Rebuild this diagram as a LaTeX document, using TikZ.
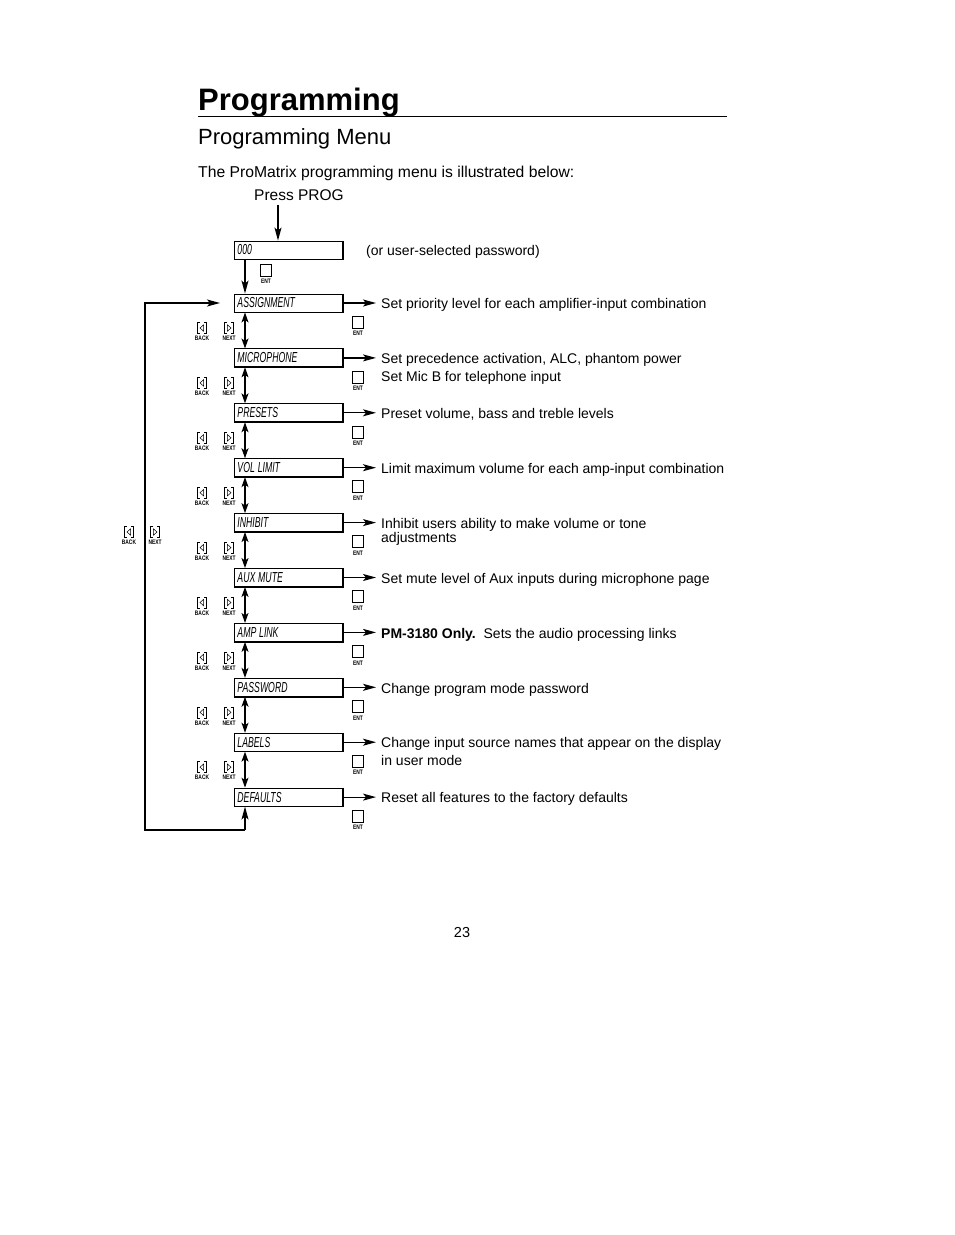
\documentclass[tikz,border=0pt]{standalone}
\usepackage{fontspec}
\setmainfont{Liberation Sans}
\usetikzlibrary{arrows.meta,positioning}

\tikzset{
  lcd/.style={draw, line width=0.9pt, anchor=west, minimum height=18pt,
    inner xsep=3pt, inner ysep=2pt, text width=102pt,
    font=\fontsize{14.5}{14.5}\selectfont\itshape},
  desc/.style={anchor=base west, align=left, inner sep=0pt,
    font=\fontsize{14}{17}\selectfont},
  arr/.style={line width=1.2pt, -{Stealth[length=13pt,width=7pt,inset=3pt]}},
  darr/.style={line width=1.2pt,
    {Stealth[length=10pt,width=7pt,inset=2.5pt]}-{Stealth[length=10pt,width=7pt,inset=2.5pt]}},
  keylbl/.style={inner sep=0pt, font=\fontsize{6.5}{6.5}\selectfont\bfseries},
  entbtn/.pic={
    \draw[line width=0.6pt] (-5.5,-6) rectangle (5.5,6);
    \node[keylbl] at (0,11.5) {\scalebox{0.75}[1]{ENT}};
  },
  backbtn/.pic={
    \draw[line width=0.6pt] (-2,-5.5) -- (-4.5,-5.5) -- (-4.5,5.5) -- (-2,5.5);
    \draw[line width=0.6pt] (2,-5.5) -- (4.5,-5.5) -- (4.5,5.5) -- (2,5.5);
    \draw[line width=0.5pt] (1.6,-3.2) -- (-2,0) -- (1.6,3.2) -- cycle;
    \node[keylbl] at (0,10.5) {\scalebox{0.75}[1]{BACK}};
  },
  nextbtn/.pic={
    \draw[line width=0.6pt] (-2,-5.5) -- (-4.5,-5.5) -- (-4.5,5.5) -- (-2,5.5);
    \draw[line width=0.6pt] (2,-5.5) -- (4.5,-5.5) -- (4.5,5.5) -- (2,5.5);
    \draw[line width=0.5pt] (-1.6,-3.2) -- (2,0) -- (-1.6,3.2) -- cycle;
    \node[keylbl] at (0,10.5) {\scalebox{0.75}[1]{NEXT}};
  }
}

\begin{document}
\begin{tikzpicture}[x=1pt,y=-1pt]
	\useasboundingbox (0,0) rectangle (954,1235);
	% heading
	\node[anchor=base west, inner sep=0pt, font=\fontsize{31}{31}\selectfont\bfseries] (title) at (198,110) {Programming};
	\draw[line width=1.8pt] (198,116.5) -- (727,116.5);
	\node[anchor=base west, inner sep=0pt, font=\fontsize{22}{22}\selectfont] (sub) at (198,144) {Programming Menu};
	\node[anchor=base west, inner sep=0pt, font=\fontsize{15.7}{15.7}\selectfont] (intro) at (198,177) {The ProMatrix programming menu is illustrated below:};
	\node[inner sep=0pt, font=\fontsize{15.5}{15.5}\selectfont] (prog) at (299,195) {Press PROG};
	% password display
	\node[lcd] (pw) at (234,250) {\scalebox{0.6}[1]{000}};
	\draw[line width=1.6pt] (pw.north east) |- (pw.south west);
	\node[desc] (pwtxt) at (366,255) {(or user-selected password)};
	\draw[arr] ([xshift=-21pt,yshift=-4pt]prog.south) -- ([xshift=44pt]pw.north west);
	\pic at (266,270) {entbtn};
	% menu displays
	\foreach \lbl [count=\i from 0] in {ASSIGNMENT,MICROPHONE,PRESETS,VOL LIMIT,INHIBIT,AUX MUTE,AMP LINK,PASSWORD,LABELS,DEFAULTS}{
		\node[lcd] (m\i) at (234,303+54.9*\i) {\scalebox{0.6}[1]{\lbl}};
		\draw[line width=1.6pt] (m\i.north east) |- (m\i.south west);
		\pic at (358,322+54.9*\i) {entbtn};
	}
	\draw[arr] ([xshift=11pt]pw.south west) -- ([xshift=11pt]m0.north west);
	% descriptions
	\node[desc] (d0) at (381,308) {Set priority level for each amplifier-input combination};
	\node[desc] (d1) at (381,381) {Set precedence activation, ALC, phantom power\\[1pt]Set Mic B for telephone input};
	\node[desc] (d2) at (381,418) {Preset volume, bass and treble levels};
	\node[desc] (d3) at (381,473) {Limit maximum volume for each amp-input combination};
	\node[desc] (d4) at (381,542) {Inhibit users ability to make volume or tone\\[-3pt]adjustments};
	\node[desc] (d5) at (381,583) {Set mute level of Aux inputs during microphone page};
	\node[desc] (d6) at (381,638) {\textbf{PM-3180 Only.}\ \ Sets the audio processing links};
	\node[desc] (d7) at (381,693) {Change program mode password};
	\node[desc] (d8) at (381,765) {Change input source names that appear on the display\\[1pt]in user mode};
	\node[desc] (d9) at (381,802) {Reset all features to the factory defaults};
	\foreach \i in {0,...,9}{
		\draw[arr, shorten >=5pt] (m\i.east) -- (m\i.east -| d\i.west);
	}
	% back / next between displays
	\foreach \i [evaluate=\i as \j using int(\i+1)] in {0,...,8}{
		\draw[darr] ([xshift=11pt]m\i.south west) -- ([xshift=11pt]m\j.north west);
		\pic at (202,328+54.9*\i) {backbtn};
		\pic at (229,328+54.9*\i) {nextbtn};
	}
	% wrap-around loop
	\coordinate (loopend) at (145,830);
	\draw[arr] ([xshift=11pt]m9.south west |- loopend) -- ([xshift=11pt]m9.south west);
	\draw[arr] ([xshift=11pt]m9.south west |- loopend) -- (loopend) |- ([xshift=-14pt]m0.west);
	\pic at (129,532) {backbtn};
	\pic at (155,532) {nextbtn};
	% page number
	\node[inner sep=0pt, font=\fontsize{14.5}{14.5}\selectfont] (page) at (462,932) {23};
\end{tikzpicture}
\end{document}
